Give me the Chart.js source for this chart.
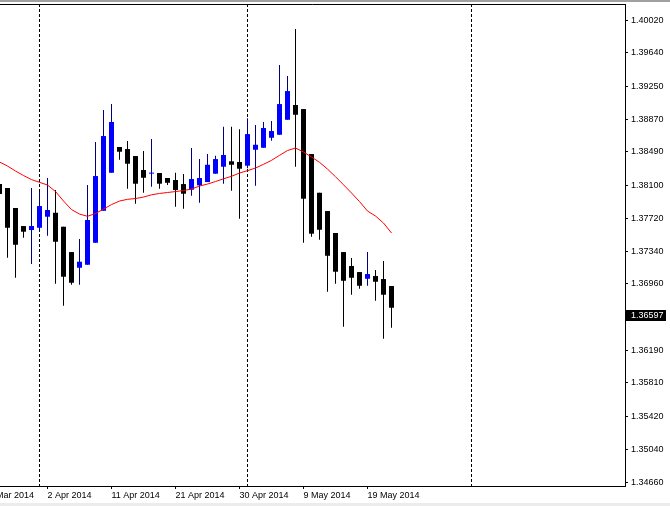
<!DOCTYPE html>
<html>
<head>
<meta charset="utf-8">
<script src="https://cdn.jsdelivr.net/npm/chart.js@4.4.1/dist/chart.umd.min.js"></script>
<style>
  html, body { margin: 0; padding: 0; background: #fff; }
</style>
</head>
<body>
<canvas id="chart" width="670" height="506"></canvas>
<script>
// daily bars, index 0 = the half hidden bar at the left edge
const opens = [1.38117, 1.38071, 1.37839, 1.37630, 1.37584, 1.37610, 1.37738, 1.37784, 1.37622, 1.37328,
  1.37146, 1.37181, 1.37436, 1.37807, 1.38248, 1.38547, 1.38523, 1.38442, 1.38280, 1.38238,
  1.38245, 1.38187, 1.38164, 1.38117, 1.38051, 1.38102, 1.38140, 1.38237, 1.38318, 1.38381,
  1.38373, 1.38330, 1.38515, 1.38538, 1.38654, 1.38689, 1.38863, 1.39034, 1.38987, 1.38465,
  1.38016, 1.37804, 1.37549, 1.37328, 1.37166, 1.37096, 1.37018, 1.37050, 1.37015, 1.36934];
const highs = [1.38117, 1.38071, 1.37839, 1.37630, 1.38071, 1.38024, 1.38187, 1.38048, 1.37622, 1.37328,
  1.37479, 1.38106, 1.38605, 1.38976, 1.39045, 1.38547, 1.38616, 1.38442, 1.38500, 1.38639,
  1.38245, 1.38187, 1.38248, 1.38233, 1.38535, 1.38407, 1.38465, 1.38446, 1.38782, 1.38782,
  1.38752, 1.38880, 1.38802, 1.38837, 1.38848, 1.39498, 1.39370, 1.39916, 1.38987, 1.38465,
  1.38016, 1.37804, 1.37549, 1.37328, 1.37259, 1.37096, 1.37328, 1.37120, 1.37224, 1.36934];
const lows = [1.38001, 1.37262, 1.37030, 1.37494, 1.37189, 1.37560, 1.37517, 1.36961, 1.36705, 1.36949,
  1.36949, 1.37181, 1.37436, 1.37807, 1.38248, 1.38399, 1.38063, 1.37889, 1.38016, 1.38086,
  1.38063, 1.38106, 1.37854, 1.37831, 1.37982, 1.37900, 1.38140, 1.38237, 1.38121, 1.38040,
  1.37715, 1.38299, 1.38097, 1.38538, 1.38620, 1.38689, 1.38863, 1.38318, 1.37436, 1.37506,
  1.37471, 1.36868, 1.36961, 1.36462, 1.36833, 1.36903, 1.36937, 1.36763, 1.36322, 1.36450];
const closes = [1.38001, 1.37610, 1.37413, 1.37564, 1.37630, 1.37862, 1.37816, 1.37448, 1.37042, 1.36972,
  1.37216, 1.37700, 1.38210, 1.38674, 1.38837, 1.38492, 1.38353, 1.38121, 1.38190, 1.38241,
  1.38121, 1.38132, 1.38048, 1.38005, 1.38175, 1.38187, 1.38341, 1.38407, 1.38454, 1.38341,
  1.38295, 1.38697, 1.38573, 1.38767, 1.38732, 1.39045, 1.39196, 1.38921, 1.37947, 1.37541,
  1.37587, 1.37285, 1.37100, 1.36995, 1.37030, 1.36937, 1.37073, 1.36984, 1.36833, 1.36682];
// moving average (red line)
const maValues = [1.38373, 1.38326, 1.38268, 1.38216, 1.38169, 1.38137, 1.38106, 1.38030, 1.37920, 1.37821,
  1.37769, 1.37743, 1.37775, 1.37827, 1.37879, 1.37920, 1.37940, 1.37949, 1.37966, 1.37992,
  1.38008, 1.38019, 1.38030, 1.38042, 1.38059, 1.38094, 1.38117, 1.38146, 1.38178, 1.38207,
  1.38245, 1.38272, 1.38303, 1.38346, 1.38392, 1.38450, 1.38506, 1.38535, 1.38489, 1.38431,
  1.38369, 1.38291, 1.38202, 1.38109, 1.38013, 1.37914, 1.37804, 1.37746, 1.37665, 1.37549];

const dateTickIndex = [-2, 6, 14, 22, 30, 38, 46];
const dateTickLabels = ["24 Mar 2014", "2 Apr 2014", "11 Apr 2014", "21 Apr 2014", "30 Apr 2014", "9 May 2014", "19 May 2014"];
const priceTicks = [1.40020, 1.39640, 1.39250, 1.38870, 1.38490, 1.38100, 1.37720, 1.37340, 1.36960,
  1.36190, 1.35810, 1.35420, 1.35040, 1.34660];
const separatorIndex = [5, 31, 59]; // month starts
const lastPrice = 1.36597;

const UP = "#0000ff", UP_WICK = "#000080", DOWN = "#000000";
const isUp = i => closes[i] >= opens[i];

const font = { family: "Liberation Sans", size: 9 };

const framePlugin = {
  id: "frame",
  beforeDraw(chart) {
    const c = chart.ctx;
    c.save();
    c.fillStyle = "#fff"; c.fillRect(0, 0, chart.width, chart.height);
    c.fillStyle = "#a0a0a0"; c.fillRect(0, 0, chart.width, 2);
    c.fillStyle = "#ececec"; c.fillRect(0, chart.height - 3, chart.width, 3);
    c.restore();
  },
  beforeDatasetsDraw(chart) {
    const c = chart.ctx, a = chart.chartArea, xs = chart.scales.x;
    c.save();
    c.strokeStyle = "#000"; c.lineWidth = 1; c.setLineDash([3, 2]);
    separatorIndex.forEach(i => {
      const px = xs.getPixelForValue(i);
      c.beginPath(); c.moveTo(px, a.top); c.lineTo(px, a.bottom); c.stroke();
    });
    c.restore();
  },
  afterDraw(chart) {
    const c = chart.ctx, a = chart.chartArea, ys = chart.scales.y;
    c.save();
    c.strokeStyle = "#000"; c.lineWidth = 1;
    c.beginPath(); c.moveTo(0, a.top + 0.5); c.lineTo(a.right + 0.5, a.top + 0.5); c.stroke();
    // current price tag
    const py = Math.round(ys.getPixelForValue(lastPrice));
    c.fillStyle = "#000";
    c.fillRect(a.right + 1, py - 5, 40, 11);
    c.beginPath(); c.moveTo(a.right, py + 0.5); c.lineTo(a.right + 3, py + 0.5); c.stroke();
    c.fillStyle = "#fff";
    c.font = font.size + "px " + font.family;
    c.textBaseline = "middle";
    c.fillText(lastPrice.toFixed(5), a.right + 6, py + 0.5);
    c.restore();
  }
};

new Chart(document.getElementById("chart"), {
  type: "bar",
  data: {
    datasets: [
      {
        type: "line",
        data: maValues.map((v, i) => ({ x: i, y: v })),
        borderColor: "#ff0000", borderWidth: 1, pointRadius: 0, tension: 0,
        order: 0
      },
      {
        data: opens.map((o, i) => ({ x: i, y: [o, closes[i]] })),
        backgroundColor: opens.map((o, i) => isUp(i) ? UP : DOWN),
        barThickness: 5, minBarLength: 1, grouped: false, inflateAmount: 0,
        order: 1
      },
      {
        data: lows.map((l, i) => ({ x: i, y: [l, highs[i]] })),
        backgroundColor: lows.map((l, i) => isUp(i) ? UP_WICK : DOWN),
        barThickness: 1, grouped: false, inflateAmount: 0,
        order: 2
      }
    ]
  },
  options: {
    responsive: false,
    animation: false,
    layout: { padding: { top: 4, left: 0, right: 0, bottom: 0 } },
    plugins: { legend: { display: false }, tooltip: { enabled: false } },
    scales: {
      x: {
        type: "linear",
        min: 0.0625, max: 78.1875,
        offset: false,
        grid: { display: true, drawOnChartArea: false, tickLength: 3, color: "#000", offset: false },
        border: { display: true, color: "#000" },
        ticks: {
          autoSkip: false, maxRotation: 0, align: "start", padding: 1,
          color: "#000", font: font,
          callback: (v, i) => dateTickLabels[i]
        },
        afterBuildTicks: s => { s.ticks = dateTickIndex.map(v => ({ value: v })); },
        afterFit: s => { s.height = 20; s.paddingLeft = 0; s.paddingRight = 0; }
      },
      y: {
        type: "linear",
        position: "right",
        min: 1.34614, max: 1.40206,
        grid: { display: true, drawOnChartArea: false, tickLength: 3, color: "#000" },
        border: { display: true, color: "#000" },
        ticks: { padding: 3, color: "#000", font: font, callback: v => v.toFixed(5) },
        afterBuildTicks: s => { s.ticks = priceTicks.map(v => ({ value: v })); },
        afterFit: s => { s.width = 45; s.paddingTop = 0; s.paddingBottom = 0; }
      }
    }
  },
  plugins: [framePlugin]
});
</script>
</body>
</html>
